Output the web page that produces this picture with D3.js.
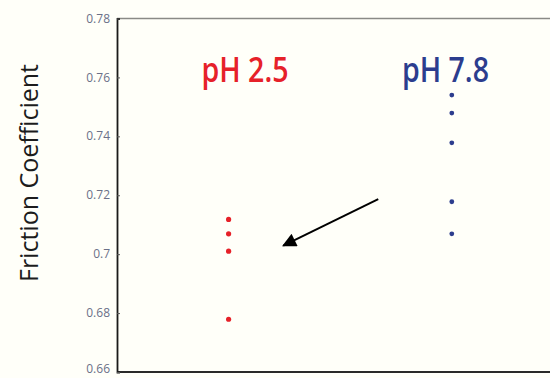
<!DOCTYPE html>
<html>
<head>
<meta charset="utf-8">
<script src="https://cdn.jsdelivr.net/npm/d3@7"></script>
<style>
  html, body { margin: 0; padding: 0; background: #fffff9; }
  svg { display: block; }
</style>
</head>
<body>
<svg id="chart" width="550" height="378"></svg>
<script>
// ---- data ----
const categories = ["pH 2.5", "pH 7.8"];
const categoryPos = [1, 3];          // group position on the x axis
const acidValues = [0.7118, 0.7069, 0.7010, 0.6779];
const neutralValues = [0.7540, 0.7479, 0.7378, 0.7178, 0.7069];
const yTicks = [0.66, 0.68, 0.70, 0.72, 0.74, 0.76, 0.78];
const yTitle = "Friction Coefficient";
const colors = ["#e62129", "#2c3d8e"];
const labelPos = [1.147, 2.943];
const labelY = 0.7584;
const arrowFrom = [2.341, 0.7187];
const arrowTo = [1.490, 0.7029];

// ---- layout ----
const W = 550, H = 378;
const svg = d3.select("#chart");
const x = d3.scaleLinear().domain([0, 4]).range([117, 563.4]);
const y = d3.scaleLinear().domain([0.66, 0.78]).range([372, 18.5]);

svg.append("rect").attr("width", W).attr("height", H).attr("fill", "#fffff9");

// frame: top (grey) and bottom (dark) lines
svg.append("line").attr("x1", x(0)).attr("x2", W).attr("y1", y(0.78)).attr("y2", y(0.78))
  .attr("stroke", "#8a8a86").attr("stroke-width", 1.6);
svg.append("line").attr("x1", x(0)).attr("x2", W).attr("y1", y(0.66)).attr("y2", y(0.66))
  .attr("stroke", "#2a2a2a").attr("stroke-width", 1.8);

// y axis
const yAxis = d3.axisLeft(y).tickValues(yTicks).tickSize(-3).tickPadding(10)
  .tickFormat(d => String(+d.toFixed(2)));
const ga = svg.append("g").attr("transform", `translate(${x(0)},0)`).call(yAxis);
ga.select(".domain").attr("stroke", "#1a1a1a").attr("stroke-width", 1.8);
ga.selectAll(".tick line").attr("stroke", "#555");
ga.selectAll(".tick text")
  .attr("font-family", "'Open Sans', sans-serif")
  .attr("font-size", 12)
  .attr("fill", "#6b7088")
  .attr("x", -7)
  .attr("dy", (d, i) => i === 0 ? "0.05em" : "0.3em");

// y title
svg.append("text")
  .attr("transform", `translate(38,${173}) rotate(-90)`)
  .attr("text-anchor", "middle")
  .attr("font-family", "'Open Sans', sans-serif")
  .attr("font-size", 25)
  .attr("fill", "#1c1c1c")
  .text(yTitle);

// group labels
svg.selectAll("text.grp").data(categories).enter().append("text")
  .attr("class", "grp")
  .attr("x", (d, i) => x(labelPos[i]))
  .attr("y", y(labelY))
  .attr("text-anchor", "middle")
  .attr("font-family", "'Open Sans', sans-serif")
  .attr("font-size", 35)
  .attr("font-weight", 600)
  .attr("textLength", 87)
  .attr("lengthAdjust", "spacingAndGlyphs")
  .attr("fill", (d, i) => colors[i])
  .text(d => d);

// points
const series = [acidValues, neutralValues];
series.forEach((vals, i) => {
  svg.selectAll(null).data(vals).enter().append("circle")
    .attr("cx", x(categoryPos[i]))
    .attr("cy", d => y(d))
    .attr("r", i === 0 ? 2.6 : 2.4)
    .attr("fill", colors[i]);
});

// arrow
const defs = svg.append("defs");
defs.append("marker").attr("id", "ah")
  .attr("viewBox", "0 0 10 10").attr("refX", 9).attr("refY", 5)
  .attr("markerWidth", 8).attr("markerHeight", 7)
  .attr("markerUnits", "strokeWidth")
  .attr("orient", "auto")
  .append("path").attr("d", "M0,0 L10,5 L0,10 Z").attr("fill", "#000");
svg.append("line")
  .attr("x1", x(arrowFrom[0])).attr("y1", y(arrowFrom[1]))
  .attr("x2", x(arrowTo[0])).attr("y2", y(arrowTo[1]))
  .attr("stroke", "#000").attr("stroke-width", 2)
  .attr("marker-end", "url(#ah)");
</script>
</body>
</html>
